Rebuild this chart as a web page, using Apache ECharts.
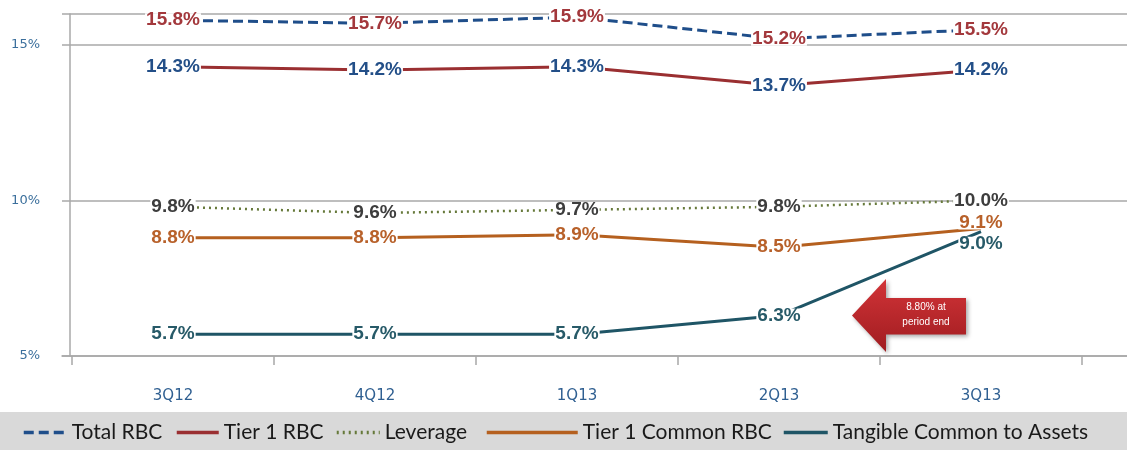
<!DOCTYPE html>
<html>
<head>
<meta charset="utf-8">
<script src="https://cdn.jsdelivr.net/npm/echarts@6/dist/echarts.min.js"></script>
<style>
  html, body { margin: 0; padding: 0; background: #fff; }
  #chart { width: 1127px; height: 450px; }
</style>
</head>
<body>
<div id="chart"></div>
<script>
// Capital ratios by quarter (%)
const quarters = ['3Q12', '4Q12', '1Q13', '2Q13', '3Q13'];
const seriesNames = ['Total RBC', 'Tier 1 RBC', 'Leverage', 'Tier 1 Common RBC', 'Tangible Common to Assets'];
const totalRBC = [15.8, 15.7, 15.9, 15.2, 15.5];
const tier1RBC = [14.3, 14.2, 14.3, 13.7, 14.2];
const leverage = [9.8, 9.6, 9.7, 9.8, 10.0];
const tier1Common = [8.8, 8.8, 8.9, 8.5, 9.1];
const tangibleCommon = [5.7, 5.7, 5.7, 6.3, 9.0];
const yTicks = [5, 10, 15];
const calloutText = '8.80% at\nperiod end';

const AXIS_GRAY = '#a8a8a8';
const LABEL_FONT = '"Liberation Sans", Arial, sans-serif';

function labelCfg(color) {
  return {
    show: true,
    position: 'inside',
    formatter: p => p.value.toFixed(1) + '%',
    color: color,
    fontFamily: LABEL_FONT,
    fontWeight: 'bold',
    fontSize: 19,
    lineHeight: 14,
    backgroundColor: '#ffffff',
    padding: [0, 1]
  };
}

// Nudge the two nearly-coincident 3Q13 labels apart
function withOffset(values, idx, dy) {
  return values.map((v, i) => i === idx ? { value: v, label: { offset: [0, dy] } } : v);
}

// One legend block per series so each entry sits at its own spot in the footer band
const legendSlots = [
  { left: 22, itemWidth: 43 },
  { left: 175, itemWidth: 42 },
  { left: 335, itemWidth: 43 },
  { left: 485, itemWidth: 91 },
  { left: 782, itemWidth: 44 }
];
const legends = seriesNames.map((name, i) => ({
  data: [name],
  left: legendSlots[i].left,
  top: 422,
  itemWidth: legendSlots[i].itemWidth,
  itemHeight: 14,
  padding: 0,
  itemStyle: { opacity: 0 },
  lineStyle: { width: 3.5 },
  textStyle: { fontFamily: 'Lato, "Open Sans", sans-serif', fontSize: 21, color: '#1a1a1a' }
}));

const chart = echarts.init(document.getElementById('chart'), null, { renderer: 'canvas' });

chart.setOption({
  animation: false,
  backgroundColor: '#fff',
  graphic: [{
    type: 'rect',
    left: 0, top: 412,
    shape: { width: 1127, height: 38 },
    style: { fill: '#d9d9d9' },
    z: -10
  }],
  legend: legends,
  grid: [
    { left: 62, right: 0, top: 14, bottom: 94 },
    { left: 72, right: 45, top: 14, bottom: 94 }
  ],
  xAxis: [
    {
      gridIndex: 0, type: 'value', min: 0, max: 1,
      axisLine: { show: true, lineStyle: { color: AXIS_GRAY, width: 1.5 } },
      axisTick: { show: false }, axisLabel: { show: false }, splitLine: { show: false }
    },
    {
      gridIndex: 1, type: 'category', data: quarters, boundaryGap: true,
      axisLine: { show: false },
      axisTick: { show: true, length: 9, lineStyle: { color: AXIS_GRAY, width: 1.5 } },
      axisLabel: { margin: 33, color: '#2f5f91', fontFamily: '"DejaVu Sans", sans-serif', fontSize: 15 },
      splitLine: { show: false }
    }
  ],
  yAxis: [
    {
      gridIndex: 0, type: 'value', min: yTicks[0], max: 16, interval: yTicks[1] - yTicks[0],
      offset: -8,
      axisLine: { show: true, lineStyle: { color: AXIS_GRAY, width: 1.5 } },
      axisTick: { show: false },
      axisLabel: {
        margin: 30, showMaxLabel: false,
        color: '#3b6f9c', fontFamily: '"DejaVu Sans", sans-serif', fontSize: 13,
        padding: [0, 0, 5, 0],
        formatter: v => yTicks.indexOf(v) >= 0 ? v + '%' : ''
      },
      splitLine: { show: true, lineStyle: { color: AXIS_GRAY, width: 1.5 } }
    },
    {
      gridIndex: 1, type: 'value', min: yTicks[0], max: 16, show: false
    }
  ],
  series: [
    {
      name: seriesNames[0], type: 'line', xAxisIndex: 1, yAxisIndex: 1,
      data: totalRBC, symbol: 'circle', symbolSize: 0.1,
      lineStyle: { color: '#1f4e8a', width: 3, type: [10, 5] },
      itemStyle: { color: '#1f4e8a' },
      label: labelCfg('#a3383c')
    },
    {
      name: seriesNames[1], type: 'line', xAxisIndex: 1, yAxisIndex: 1,
      data: tier1RBC, symbol: 'circle', symbolSize: 0.1,
      lineStyle: { color: '#9a2f31', width: 3 },
      itemStyle: { color: '#9a2f31' },
      label: labelCfg('#234f88')
    },
    {
      name: seriesNames[2], type: 'line', xAxisIndex: 1, yAxisIndex: 1,
      data: leverage, symbol: 'circle', symbolSize: 0.1,
      lineStyle: { color: '#66793a', width: 2.5, type: [2, 4] },
      itemStyle: { color: '#66793a' },
      label: labelCfg('#3d3d3d')
    },
    {
      name: seriesNames[3], type: 'line', xAxisIndex: 1, yAxisIndex: 1,
      data: withOffset(tier1Common, 4, -6), symbol: 'circle', symbolSize: 0.1,
      lineStyle: { color: '#b5601f', width: 3 },
      itemStyle: { color: '#b5601f' },
      label: labelCfg('#b8612a')
    },
    {
      name: seriesNames[4], type: 'line', xAxisIndex: 1, yAxisIndex: 1,
      data: withOffset(tangibleCommon, 4, 12), symbol: 'circle', symbolSize: 0.1,
      lineStyle: { color: '#1f5566', width: 3 },
      itemStyle: { color: '#1f5566' },
      label: labelCfg('#275a68'),
      markPoint: {
        silent: true,
        symbol: 'path://M0,50 L34,0 L34,26 L114,26 L114,76 L34,76 L34,100 Z',
        symbolSize: [114, 73],
        symbolKeepAspect: false,
        symbolOffset: [130, 0],
        itemStyle: {
          color: new echarts.graphic.LinearGradient(0, 0, 0, 1, [
            { offset: 0, color: '#d23438' },
            { offset: 1, color: '#a01c20' }
          ]),
          opacity: 1,
          shadowColor: 'rgba(0,0,0,0.35)', shadowBlur: 4, shadowOffsetX: 2, shadowOffsetY: 2
        },
        label: {
          show: true, position: 'inside', offset: [17, -1],
          formatter: calloutText,
          color: '#ffffff', fontFamily: '"Liberation Sans", Arial, sans-serif',
          fontSize: 10, lineHeight: 15, align: 'center'
        },
        data: [{ coord: [quarters[3], tangibleCommon[3]] }]
      }
    }
  ]
});
</script>
</body>
</html>
